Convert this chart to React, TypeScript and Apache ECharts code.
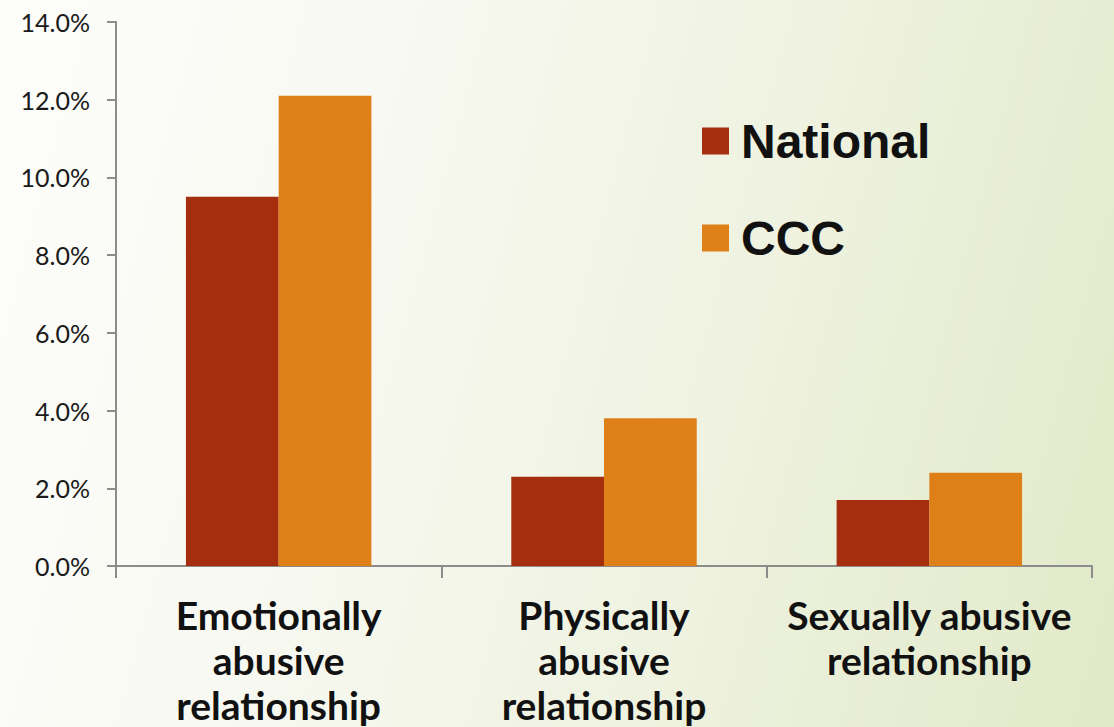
import React, { useEffect, useRef } from "react";
import * as echarts from "echarts";

const categories = [
  "Emotionally\nabusive\nrelationship",
  "Physically\nabusive\nrelationship",
  "Sexually abusive\nrelationship",
];
const nationalValues = [9.5, 2.3, 1.7];
const cccValues = [12.1, 3.8, 2.4];
const seriesNames = ["National", "CCC"];

export default function App() {
  const ref = useRef<HTMLDivElement>(null);
  useEffect(() => {
    if (!ref.current) return;
    const chart = echarts.init(ref.current, undefined, { renderer: "svg" });
    chart.setOption({
      animation: false,
      backgroundColor: "transparent",
      grid: { left: 116, right: 22, top: 22, bottom: 154, containLabel: false },
      legend: {
        data: seriesNames,
        orient: "vertical",
        left: 697,
        top: 111,
        itemWidth: 27,
        itemHeight: 27,
        itemGap: 47,
        icon: "rect",
        textStyle: {
          fontFamily: "Liberation Sans, Arial, sans-serif",
          fontWeight: "bold",
          fontSize: 48,
          lineHeight: 50,
          color: "#111",
          padding: [0, 0, 0, 7],
        },
      },
      xAxis: {
        type: "category",
        data: categories,
        axisLine: { show: true, lineStyle: { color: "#8c8c8c", width: 2 } },
        axisTick: { show: true, length: 12, lineStyle: { color: "#8c8c8c", width: 2 } },
        axisLabel: {
          interval: 0,
          margin: 26,
          fontFamily: "Lato, Open Sans, sans-serif",
          fontWeight: "bold",
          fontSize: 39,
          lineHeight: 45,
          color: "#111",
        },
      },
      yAxis: {
        type: "value",
        min: 0,
        max: 14,
        interval: 2,
        splitLine: { show: false },
        axisLine: { show: true, lineStyle: { color: "#8c8c8c", width: 2 } },
        axisTick: { show: true, length: 9, lineStyle: { color: "#8c8c8c", width: 2 } },
        axisLabel: {
          margin: 26,
          fontFamily: "Lato, Open Sans, sans-serif",
          fontSize: 25,
          color: "#1a1a1a",
          formatter: (v: number) => v.toFixed(1) + "%",
        },
      },
      series: [
        {
          name: seriesNames[0],
          type: "bar",
          data: nationalValues,
          itemStyle: { color: "#a52e0f" },
          barGap: "0%",
          barCategoryGap: "43%",
        },
        {
          name: seriesNames[1],
          type: "bar",
          data: cccValues,
          itemStyle: { color: "#df7f18" },
          barGap: "0%",
          barCategoryGap: "43%",
        },
      ],
    });
    return () => chart.dispose();
  }, []);
  return (
    <div
      style={{
        position: "fixed",
        left: 0,
        top: 0,
        width: 1114,
        height: 727,
        background:
          "linear-gradient(105deg, #fdfdfb 0%, #f8f9f2 30%, #eef2df 65%, #e1e9c8 100%)",
      }}
    >
      <div ref={ref} style={{ width: 1114, height: 727 }} />
    </div>
  );
}
